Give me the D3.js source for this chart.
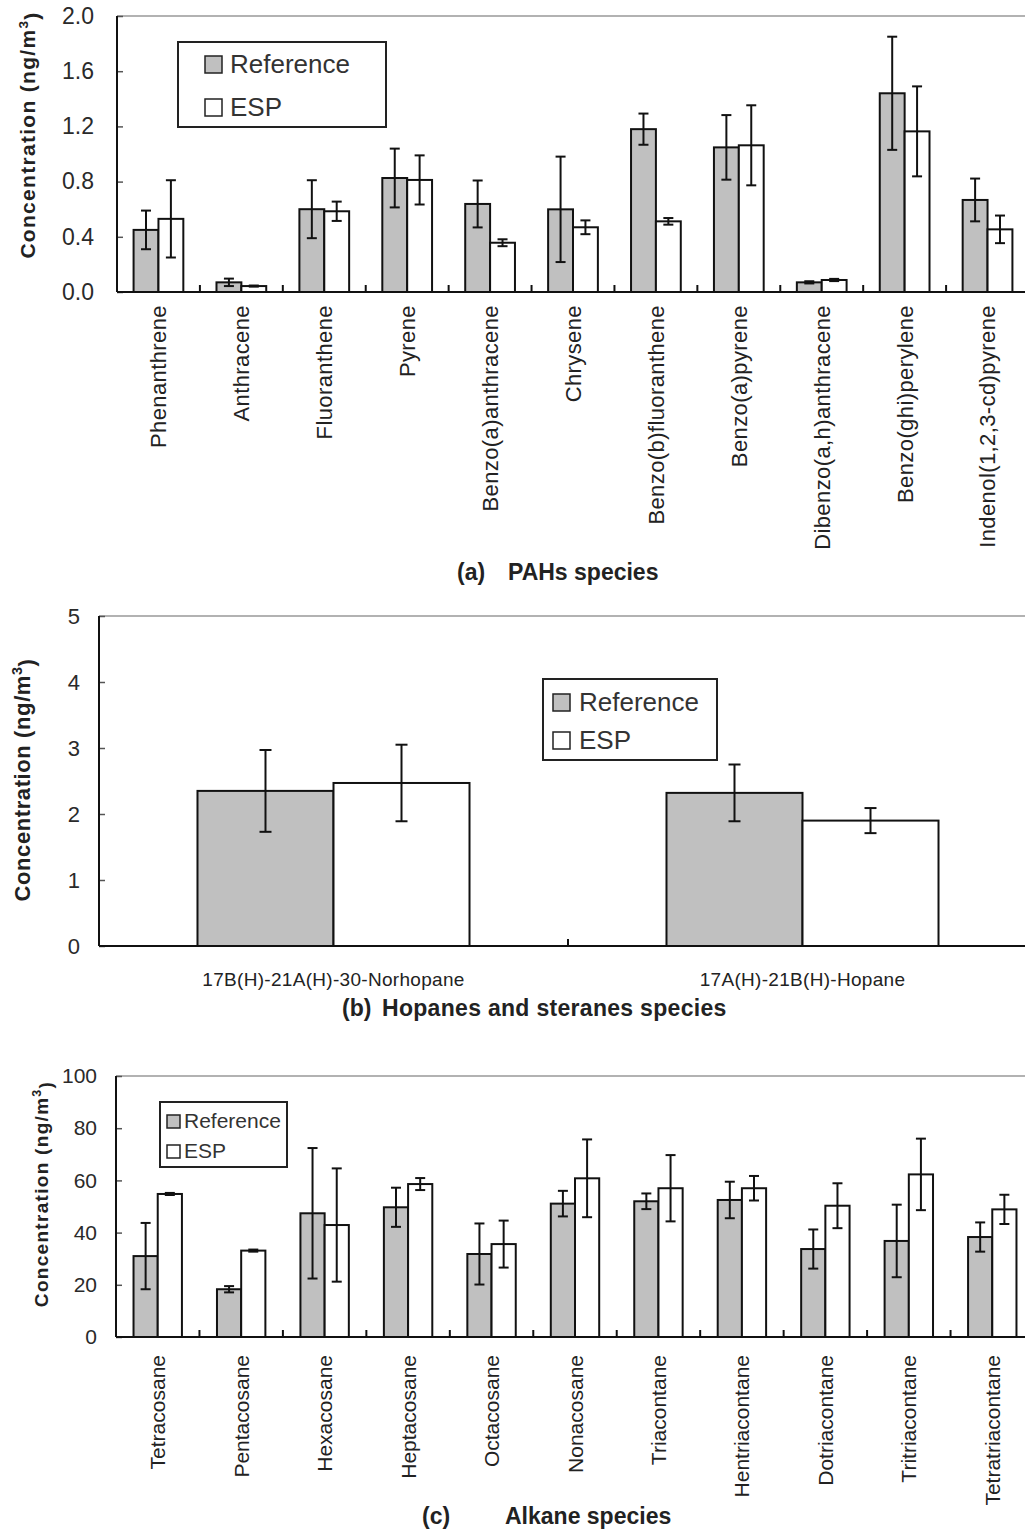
<!DOCTYPE html>
<html>
<head>
<meta charset="utf-8">
<script src="https://cdn.jsdelivr.net/npm/d3@7"></script>
<style>
  body { margin: 0; background: #fff; }
  svg { display: block; font-family: "Liberation Sans", Arial, sans-serif; }
</style>
</head>
<body>
<div class="root"></div>
<script>
var series = ['Reference', 'ESP'];

// (a) PAHs
var pahCats = ['Phenanthrene', 'Anthracene', 'Fluoranthene', 'Pyrene', 'Benzo(a)anthracene', 'Chrysene',
  'Benzo(b)fluoranthene', 'Benzo(a)pyrene', 'Dibenzo(a,h)anthracene', 'Benzo(ghi)perylene', 'Indenol(1,2,3-cd)pyrene'];
var pahRef = [0.45, 0.07, 0.60, 0.826, 0.638, 0.599, 1.18, 1.048, 0.07, 1.44, 0.667];
var pahRefSd = [0.14, 0.027, 0.21, 0.213, 0.17, 0.382, 0.113, 0.234, 0.008, 0.41, 0.155];
var pahEsp = [0.53, 0.043, 0.585, 0.812, 0.357, 0.469, 0.512, 1.063, 0.087, 1.164, 0.454];
var pahEspSd = [0.28, 0.004, 0.07, 0.178, 0.025, 0.05, 0.024, 0.29, 0.008, 0.326, 0.10];
var pahTicks = [0, 0.4, 0.8, 1.2, 1.6, 2.0];

// (b) hopanes
var hopCats = ['17B(H)-21A(H)-30-Norhopane', '17A(H)-21B(H)-Hopane'];
var hopRef = [2.35, 2.32];
var hopRefSd = [0.62, 0.43];
var hopEsp = [2.47, 1.90];
var hopEspSd = [0.58, 0.19];
var hopTicks = [0, 1, 2, 3, 4, 5];

// (c) alkanes
var alkCats = ['Tetracosane', 'Pentacosane', 'Hexacosane', 'Heptacosane', 'Octacosane', 'Nonacosane',
  'Triacontane', 'Hentriacontane', 'Dotriacontane', 'Tritriacontane', 'Tetratriacontane'];
var alkRef = [31.0, 18.3, 47.4, 49.7, 31.8, 51.1, 52.0, 52.5, 33.7, 36.8, 38.3];
var alkRefSd = [12.7, 1.2, 25.0, 7.5, 11.7, 4.9, 3.0, 7.0, 7.5, 13.9, 5.6];
var alkEsp = [54.8, 33.1, 42.9, 58.6, 35.6, 60.8, 57.0, 57.0, 50.3, 62.3, 48.9];
var alkEspSd = [0.4, 0.4, 21.7, 2.3, 9.0, 14.9, 12.7, 4.7, 8.6, 13.7, 5.6];
var alkTicks = [0, 20, 40, 60, 80, 100];

var W = 1025, H = 1533;
var fills = { 'Reference': '#c0c0c0', 'ESP': '#ffffff' };

var svg = d3.select('.root').append('svg')
  .attr('width', W)
  .attr('height', H);

function drawPanel(cfg) {
  var g = svg.append('g');

  var x = d3.scaleBand().domain(cfg.cats).range([cfg.x0, cfg.x1]);
  var bw = x.bandwidth();
  var xs = d3.scaleBand().domain(series).range([bw * cfg.gp[0], bw * cfg.gp[1]]);
  var y = d3.scaleLinear().domain([0, cfg.ymax]).range([cfg.yBot, cfg.yTop]);

  var rows = cfg.cats.map(function(c, i) {
    return [
      { cat: c, s: 'Reference', v: cfg.ref[i], sd: cfg.refSd[i] },
      { cat: c, s: 'ESP', v: cfg.esp[i], sd: cfg.espSd[i] }
    ];
  });
  var flat = d3.merge(rows);

  // top border
  g.append('line')
    .attr('x1', cfg.x0).attr('x2', W)
    .attr('y1', cfg.yTop).attr('y2', cfg.yTop)
    .attr('stroke', '#999').attr('stroke-width', 1.5);

  // bars
  g.append('g').selectAll('rect')
    .data(flat)
    .enter().append('rect')
      .attr('x', function(d) { return x(d.cat) + xs(d.s); })
      .attr('width', xs.bandwidth())
      .attr('y', function(d) { return y(d.v); })
      .attr('height', function(d) { return y(0) - y(d.v); })
      .attr('fill', function(d) { return fills[d.s]; })
      .attr('stroke', '#111')
      .attr('stroke-width', 2);

  // error bars
  var eb = g.append('g').selectAll('g')
    .data(flat)
    .enter().append('g')
      .attr('stroke', '#111')
      .attr('stroke-width', 2);
  function cx(d) { return x(d.cat) + xs(d.s) + xs.bandwidth() / 2; }
  eb.append('line')
    .attr('x1', cx).attr('x2', cx)
    .attr('y1', function(d) { return y(d.v + d.sd); })
    .attr('y2', function(d) { return y(Math.max(0, d.v - d.sd)); });
  eb.append('line')
    .attr('x1', function(d) { return cx(d) - cfg.cap; })
    .attr('x2', function(d) { return cx(d) + cfg.cap; })
    .attr('y1', function(d) { return y(d.v + d.sd); })
    .attr('y2', function(d) { return y(d.v + d.sd); });
  eb.append('line')
    .attr('x1', function(d) { return cx(d) - cfg.cap; })
    .attr('x2', function(d) { return cx(d) + cfg.cap; })
    .attr('y1', function(d) { return y(Math.max(0, d.v - d.sd)); })
    .attr('y2', function(d) { return y(Math.max(0, d.v - d.sd)); });

  // y axis
  var ya = g.append('g')
    .attr('transform', 'translate(' + cfg.x0 + ',0)')
    .call(d3.axisLeft(y).tickValues(cfg.ticks).tickSize(-6).tickPadding(cfg.tickGap)
      .tickFormat(d3.format(cfg.fmt)));
  ya.select('.domain').remove();
  ya.selectAll('.tick line').attr('stroke', '#555').attr('stroke-width', 1.5);
  ya.selectAll('.tick text')
    .attr('font-size', cfg.tickFont)
    .attr('fill', '#2a2a2a')
    .style('font-family', '"Liberation Sans", Arial, sans-serif');

  g.append('line')
    .attr('x1', cfg.x0).attr('x2', cfg.x0)
    .attr('y1', cfg.yTop).attr('y2', cfg.yBot)
    .attr('stroke', '#111').attr('stroke-width', 2);

  // x baseline and category separators
  g.append('line')
    .attr('x1', cfg.x0).attr('x2', W)
    .attr('y1', cfg.yBot).attr('y2', cfg.yBot)
    .attr('stroke', '#111').attr('stroke-width', 2);
  g.append('g').selectAll('line')
    .data(cfg.cats.slice(1))
    .enter().append('line')
      .attr('x1', function(d) { return x(d); })
      .attr('x2', function(d) { return x(d); })
      .attr('y1', cfg.yBot - 7).attr('y2', cfg.yBot)
      .attr('stroke', '#111').attr('stroke-width', 2);

  // category labels
  var labs = g.append('g').selectAll('text')
    .data(cfg.cats)
    .enter().append('text')
      .attr('font-size', cfg.labFont)
      .attr('fill', '#222')
      .attr('letter-spacing', cfg.labLs)
      .text(function(d) { return d; });
  if (cfg.rotate) {
    labs.attr('text-anchor', 'end')
      .attr('dy', '0.36em')
      .attr('transform', function(d) {
        return 'translate(' + (x(d) + bw / 2) + ',' + (cfg.yBot + cfg.labOff) + ') rotate(-90)';
      });
  } else {
    labs.attr('text-anchor', 'middle')
      .attr('x', function(d) { return x(d) + bw / 2; })
      .attr('y', cfg.yBot + cfg.labOff);
  }

  // y title
  var yt = g.append('text')
    .attr('transform', 'translate(' + cfg.yt.x + ',' + cfg.yt.y + ') rotate(-90)')
    .attr('text-anchor', 'middle')
    .attr('font-size', cfg.yt.size)
    .attr('font-weight', 'bold')
    .attr('letter-spacing', cfg.yt.ls)
    .attr('fill', '#222');
  yt.append('tspan').text('Concentration (ng/m');
  yt.append('tspan').attr('dy', '-0.55em').attr('font-size', '0.65em').text('3');
  yt.append('tspan').attr('dy', '0.55em').text(')');

  // legend
  var L = cfg.legend;
  var lg = g.append('g');
  lg.append('rect')
    .attr('x', L.x).attr('y', L.y).attr('width', L.w).attr('height', L.h)
    .attr('fill', '#fff').attr('stroke', '#222').attr('stroke-width', 2);
  var li = lg.selectAll('.li')
    .data(series)
    .enter().append('g')
      .attr('class', 'li')
      .attr('transform', function(d, i) { return 'translate(0,' + L.rows[i] + ')'; });
  li.append('rect')
    .attr('x', L.sx).attr('y', -L.sw)
    .attr('width', L.sw).attr('height', L.sw)
    .attr('fill', function(d) { return fills[d]; })
    .attr('stroke', '#222').attr('stroke-width', 1.5);
  li.append('text')
    .attr('x', L.tx).attr('y', 0)
    .attr('font-size', L.font)
    .attr('fill', '#333')
    .text(function(d) { return d; });

  // panel title
  var T = cfg.title;
  g.append('text')
    .attr('x', T.x1).attr('y', T.y)
    .attr('font-size', T.size).attr('font-weight', 'bold').attr('fill', '#222')
    .text(T.tag);
  g.append('text')
    .attr('x', T.x2).attr('y', T.y)
    .attr('font-size', T.size).attr('font-weight', 'bold').attr('fill', '#222')
    .attr('letter-spacing', T.ls)
    .text(T.text);
}

drawPanel({
  cats: pahCats, ref: pahRef, refSd: pahRefSd, esp: pahEsp, espSd: pahEspSd,
  x0: 117, x1: 1029, yTop: 16, yBot: 292, ymax: 2.0, ticks: pahTicks, fmt: '.1f',
  gp: [0.2, 0.8], cap: 5, tickFont: 23, tickGap: 23,
  rotate: true, labFont: 22, labLs: 0.4, labOff: 13,
  yt: { x: 35, y: 135, size: 21, ls: 1.3 },
  legend: { x: 178, y: 42, w: 208, h: 85, sx: 205, sw: 17, tx: 230, font: 26, rows: [73, 116] },
  title: { tag: '(a)', text: 'PAHs species', x1: 457, x2: 508, y: 580, size: 23, ls: 0 }
});

drawPanel({
  cats: hopCats, ref: hopRef, refSd: hopRefSd, esp: hopEsp, espSd: hopEspSd,
  x0: 99, x1: 1037, yTop: 616, yBot: 946, ymax: 5, ticks: hopTicks, fmt: 'd',
  gp: [0.21, 0.79], cap: 6, tickFont: 22, tickGap: 19,
  rotate: false, labFont: 19, labLs: 0.3, labOff: 40,
  yt: { x: 30, y: 780, size: 22, ls: 0.6 },
  legend: { x: 543, y: 679, w: 174, h: 81, sx: 553, sw: 17, tx: 579, font: 26, rows: [711, 749] },
  title: { tag: '(b)', text: 'Hopanes and steranes species', x1: 342, x2: 382, y: 1016, size: 23, ls: 0.3 }
});

drawPanel({
  cats: alkCats, ref: alkRef, refSd: alkRefSd, esp: alkEsp, espSd: alkEspSd,
  x0: 116, x1: 1034, yTop: 1076, yBot: 1337, ymax: 100, ticks: alkTicks, fmt: 'd',
  gp: [0.21, 0.79], cap: 5, tickFont: 21, tickGap: 19,
  rotate: true, labFont: 21, labLs: 0, labOff: 18,
  yt: { x: 48, y: 1194, size: 19, ls: 1.3 },
  legend: { x: 160, y: 1102, w: 127, h: 65, sx: 167, sw: 13, tx: 184, font: 21, rows: [1128, 1158] },
  title: { tag: '(c)', text: 'Alkane species', x1: 422, x2: 505, y: 1524, size: 23, ls: 0 }
});
</script>
</body>
</html>
